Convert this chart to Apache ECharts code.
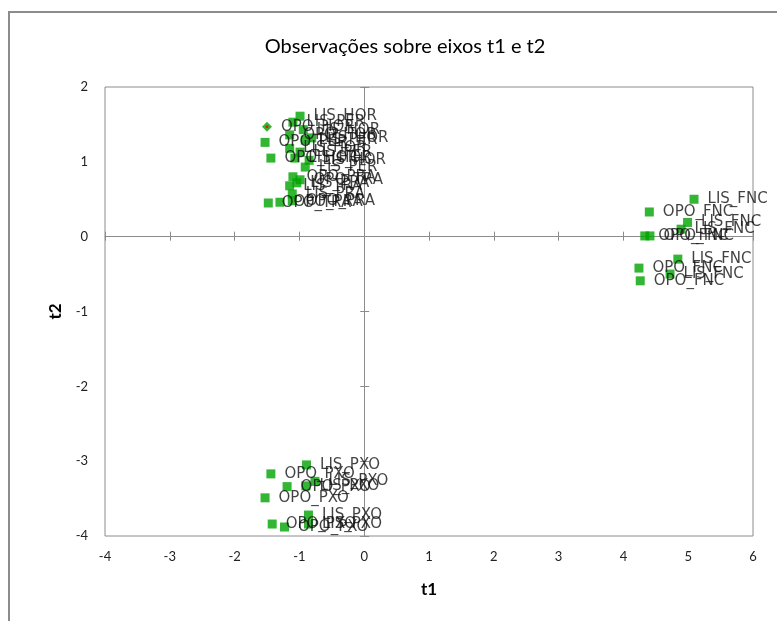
<!DOCTYPE html>
<html>
<head>
<meta charset="utf-8">
<script src="https://cdn.jsdelivr.net/npm/echarts@6/dist/echarts.min.js"></script>
<style>
  html, body { margin: 0; padding: 0; background: #fff; }
  #chart { width: 777px; height: 621px; }
</style>
</head>
<body>
<div id="chart"></div>
<script>
// observações (rótulo, t1, t2)
const names = [
  'LIS_HOR', 'LIS_PER', 'LIS_HOR', 'OPO_PER', 'OPO_HOR', 'LIS_PER', 'LIS_HOR', 'LIS_PER',
  'LIS_HOR', 'OPO_HOR', 'LIS_HOR', 'LIS_HOR', 'LIS_PER', 'OPO_PRA', 'LIS_PRA', 'LIS_TRA',
  'OPO_TRA', 'LIS_PRA', 'OPO_TRA', 'OPO_PRA', 'OPO_PRA',
  'LIS_FNC', 'OPO_FNC', 'LIS_FNC', 'LIS_FNC', 'OPO_FNC', 'OPO_FNC', 'LIS_FNC', 'OPO_FNC',
  'LIS_FNC', 'OPO_FNC',
  'LIS_PXO', 'OPO_PXO', 'OPO_PXO', 'LIS_PXO', 'LIS_PXO', 'OPO_PXO', 'LIS_PXO', 'OPO_PXO',
  'OPO_PXO', 'LIS_PXO'
]
const t1 = [
  -0.99, -1.10, -0.94, -1.53, -1.15, -0.91, -1.15, -0.99,
  -0.81, -1.44, -1.07, -0.85, -0.91, -1.10, -1.04, -1.15,
  -0.99, -1.11, -1.48, -1.30, -1.11,
  5.09, 4.40, 4.99, 4.89, 4.33, 4.41, 4.84, 4.24,
  4.72, 4.26,
  -0.89, -1.44, -1.19, -0.90, -0.76, -1.53, -0.86, -1.42,
  -1.23, -0.86
]
const t2 = [
  1.61, 1.53, 1.43, 1.26, 1.36, 1.29, 1.18, 1.13,
  1.32, 1.05, 1.05, 1.02, 0.93, 0.80, 0.72, 0.68,
  0.76, 0.57, 0.45, 0.46, 0.48,
  0.50, 0.33, 0.19, 0.10, 0.01, 0.01, -0.30, -0.42,
  -0.50, -0.59,
  -3.05, -3.17, -3.34, -3.33, -3.27, -3.49, -3.72, -3.84,
  -3.88, -3.84
]
// ponto selecionado (losango)
const selName = 'OPO_HOR'
const selT1 = -1.50
const selT2 = 1.47

const xTicks = [-4, 6, 1]
const yTicks = [-4, 2, 1]

const points = names.map((n, i) => ({ name: n, value: [t1[i], t2[i]] }))

const chart = echarts.init(document.getElementById('chart'))
const valueAxis = {
  type: 'value', min: 0, max: 0, interval: 1,
  splitLine: { show: false }
}
const ptLabel = {
  show: true, position: 'right', distance: 9, formatter: '{b}',
  fontFamily: 'DejaVu Sans', fontSize: 15, color: '#111'
}
const option = {
  animation: false,
  title: {
    text: 'Observações sobre eixos t1 e t2',
    left: 400, top: 32, textAlign: 'center',
    textStyle: { fontFamily: 'Lato', fontSize: 20, fontWeight: 'normal', color: '#000' }
  },
  graphic: [{
    type: 'rect', shape: { x: 9, y: 12, width: 800, height: 640 },
    style: { fill: 'none', stroke: '#8c8c8c', lineWidth: 2 }, silent: true
  }],
  grid: { left: 105, top: 87, right: 24, bottom: 85, show: true, borderColor: '#8c8c8c', borderWidth: 1 },
  xAxis: [
    Object.assign({}, valueAxis, {
      min: xTicks[0], max: xTicks[1], interval: xTicks[2], position: 'bottom',
      axisLine: { show: false, onZero: false }, axisTick: { show: false },
      axisLabel: { margin: 14, fontFamily: 'Lato', fontSize: 13, color: '#222' },
      name: 't1', nameLocation: 'middle', nameGap: 45,
      nameTextStyle: { fontFamily: 'Lato', fontSize: 17, fontWeight: 'bold', color: '#000' }
    }),
    Object.assign({}, valueAxis, {
      min: xTicks[0], max: xTicks[1], interval: xTicks[2],
      axisLine: { show: true, onZero: true, lineStyle: { color: '#8c8c8c' } },
      axisTick: { show: true, length: 5, lineStyle: { color: '#8c8c8c' } },
      axisLabel: { show: false }
    }),
    Object.assign({}, valueAxis, {
      min: xTicks[0], max: xTicks[1], interval: xTicks[2],
      axisLine: { show: false, onZero: true },
      axisTick: { show: true, inside: true, length: 4, lineStyle: { color: '#8c8c8c' } },
      axisLabel: { show: false }
    })
  ],
  yAxis: [
    Object.assign({}, valueAxis, {
      min: yTicks[0], max: yTicks[1], interval: yTicks[2], position: 'left',
      axisLine: { show: false, onZero: false }, axisTick: { show: false },
      axisLabel: { margin: 17, fontFamily: 'Lato', fontSize: 13, color: '#222' },
      name: 't2', nameLocation: 'middle', nameGap: 41, nameRotate: 90,
      nameTextStyle: { fontFamily: 'Lato', fontSize: 17, fontWeight: 'bold', color: '#000' }
    }),
    Object.assign({}, valueAxis, {
      min: yTicks[0], max: yTicks[1], interval: yTicks[2],
      axisLine: { show: true, onZero: true, lineStyle: { color: '#8c8c8c' } },
      axisTick: { show: true, length: 5, lineStyle: { color: '#8c8c8c' } },
      axisLabel: { show: false }
    }),
    Object.assign({}, valueAxis, {
      min: yTicks[0], max: yTicks[1], interval: yTicks[2],
      axisLine: { show: false, onZero: true },
      axisTick: { show: true, inside: true, length: 4, lineStyle: { color: '#8c8c8c' } },
      axisLabel: { show: false }
    })
  ],
  series: [
    {
      type: 'scatter', data: points, symbol: 'rect', symbolSize: 9,
      itemStyle: { color: '#00A400' }, label: ptLabel
    },
    {
      type: 'scatter', data: [{ name: selName, value: [selT1, selT2] }], symbol: 'diamond', symbolSize: 10,
      itemStyle: { color: '#00A400' }, label: ptLabel
    },
    {
      type: 'scatter', data: [[selT1, selT2]], symbol: 'circle', symbolSize: 3,
      itemStyle: { color: '#ff0000' }, z: 5
    }
  ]
}
chart.setOption(option)
</script>
</body>
</html>
